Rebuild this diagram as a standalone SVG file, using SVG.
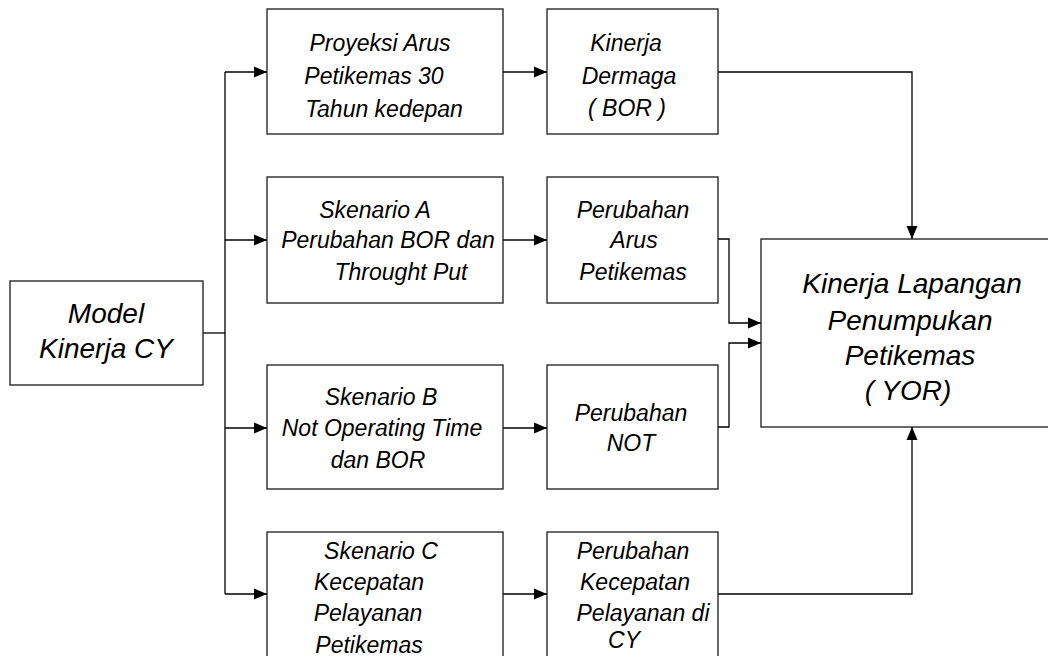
<svg xmlns="http://www.w3.org/2000/svg" width="1048" height="656" viewBox="0 0 1048 656">
<defs>
<marker id="arr" markerUnits="userSpaceOnUse" markerWidth="14" markerHeight="12" refX="13" refY="6" orient="auto">
<path d="M0,0.5 L13,6 L0,11.5 Z" fill="#000"/>
</marker>
<style>
.box{fill:#fff;stroke:#1a1a1a;stroke-width:1.3}
.t{font-family:"Liberation Sans",Arial,sans-serif;font-style:italic;font-size:23px;fill:#000;text-anchor:middle}
.tl{font-family:"Liberation Sans",Arial,sans-serif;font-style:italic;font-size:28px;fill:#000;text-anchor:middle}
.c{fill:none;stroke:#000;stroke-width:1.3}
.ca{fill:none;stroke:#000;stroke-width:1.3;marker-end:url(#arr)}
</style>
</defs>
<rect width="1048" height="656" fill="#fff"/>
<g id="connectors">
<path class="c" d="M203,333 H225"/>
<path class="c" d="M225,72 V594"/>
<path class="ca" d="M225,72 H267"/>
<path class="ca" d="M225,240 H267"/>
<path class="ca" d="M225,428 H267"/>
<path class="ca" d="M225,594 H267"/>
<path class="ca" d="M503,72 H547"/>
<path class="ca" d="M503,240 H547"/>
<path class="ca" d="M503,428 H547"/>
<path class="ca" d="M503,594 H547"/>
<path class="ca" d="M718,72 H912 V239"/>
<path class="ca" d="M718,239 H729 V323 H761"/>
<path class="ca" d="M718,427 H729 V343 H761"/>
<path class="ca" d="M718,594 H912 V427"/>
</g>
<g id="model">
<rect class="box" x="10" y="281" width="193" height="104"/>
<text class="tl" x="106" y="323">Model</text>
<text class="tl" x="106" y="358">Kinerja CY</text>
</g>
<g id="proyeksi">
<rect class="box" x="267" y="9" width="236" height="125"/>
<text class="t" x="380" y="51">Proyeksi Arus</text>
<text class="t" x="374" y="84">Petikemas 30</text>
<text class="t" x="384" y="117">Tahun kedepan</text>
</g>
<g id="dermaga">
<rect class="box" x="547" y="9" width="171" height="125"/>
<text class="t" x="626" y="51">Kinerja</text>
<text class="t" x="629" y="84">Dermaga</text>
<text class="t" x="627" y="116">( BOR )</text>
</g>
<g id="skenarioA">
<rect class="box" x="267" y="177" width="236" height="126"/>
<text class="t" x="375" y="218">Skenario A</text>
<text class="t" x="388" y="248">Perubahan BOR dan</text>
<text class="t" x="401" y="280">Throught Put</text>
</g>
<g id="perubahanArus">
<rect class="box" x="547" y="177" width="171" height="126"/>
<text class="t" x="633" y="218">Perubahan</text>
<text class="t" x="634" y="248">Arus</text>
<text class="t" x="633" y="280">Petikemas</text>
</g>
<g id="skenarioB">
<rect class="box" x="267" y="365" width="236" height="124"/>
<text class="t" x="381" y="405">Skenario B</text>
<text class="t" x="382" y="436">Not Operating Time</text>
<text class="t" x="378" y="468">dan BOR</text>
</g>
<g id="perubahanNOT">
<rect class="box" x="547" y="365" width="171" height="124"/>
<text class="t" x="631" y="421">Perubahan</text>
<text class="t" x="631" y="451">NOT</text>
</g>
<g id="skenarioC">
<rect class="box" x="267" y="532" width="236" height="140"/>
<text class="t" x="381" y="559">Skenario C</text>
<text class="t" x="369" y="590">Kecepatan</text>
<text class="t" x="368" y="621">Pelayanan</text>
<text class="t" x="369" y="653">Petikemas</text>
</g>
<g id="perubahanKecepatan">
<rect class="box" x="547" y="532" width="171" height="140"/>
<text class="t" x="633" y="559">Perubahan</text>
<text class="t" x="635" y="590">Kecepatan</text>
<text class="t" x="643" y="621">Pelayanan di</text>
<text class="t" x="624" y="648">CY</text>
</g>
<g id="yor">
<rect class="box" x="761" y="239" width="300" height="188"/>
<text class="tl" x="912" y="293">Kinerja Lapangan</text>
<text class="tl" x="910" y="330">Penumpukan</text>
<text class="tl" x="910" y="365">Petikemas</text>
<text class="tl" x="908" y="400">( YOR)</text>
</g>
</svg>
